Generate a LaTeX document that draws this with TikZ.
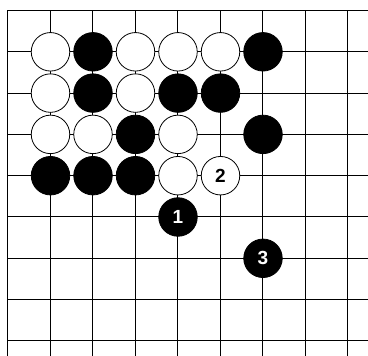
\documentclass[tikz,border=0pt]{standalone}
\usepackage{fontspec}
\setmainfont{Liberation Sans}
\begin{document}
\begin{tikzpicture}[x=1pt,y=-1pt,
  gridline/.style={line width=1pt,black},
  bstone/.style={circle,fill=black,draw=black,line width=0.8pt,minimum size=38.5pt,inner sep=0pt,text=white,font=\fontsize{19}{19}\selectfont\bfseries},
  wstone/.style={circle,fill=white,draw=black,line width=0.8pt,minimum size=38.5pt,inner sep=0pt,text=black,font=\fontsize{19}{19}\selectfont\bfseries}]
\useasboundingbox (0,0) rectangle (368,356);
\fill[white] (0,0) rectangle (368,356);
% grid
\foreach \i in {0,...,8} {
  \pgfmathsetmacro{\xx}{8+42.5*\i}
  \draw[gridline] (\xx,10.5) -- (\xx,356);
}
\foreach \j in {0,...,8} {
  \pgfmathsetmacro{\yy}{10.5+41.3*\j}
  \draw[gridline] (8,\yy) -- (368,\yy);
}
% helper macros for positions
\def\cx#1{8+42.5*#1}
\def\ry#1{10.5+41.3*#1}
% row 1
\node[wstone] (w11) at ({\cx{1}},{\ry{1}}) {};
\node[bstone] (b12) at ({\cx{2}},{\ry{1}}) {};
\node[wstone] (w13) at ({\cx{3}},{\ry{1}}) {};
\node[wstone] (w14) at ({\cx{4}},{\ry{1}}) {};
\node[wstone] (w15) at ({\cx{5}},{\ry{1}}) {};
\node[bstone] (b16) at ({\cx{6}},{\ry{1}}) {};
% row 2
\node[wstone] (w21) at ({\cx{1}},{\ry{2}}) {};
\node[bstone] (b22) at ({\cx{2}},{\ry{2}}) {};
\node[wstone] (w23) at ({\cx{3}},{\ry{2}}) {};
\node[bstone] (b24) at ({\cx{4}},{\ry{2}}) {};
\node[bstone] (b25) at ({\cx{5}},{\ry{2}}) {};
% row 3
\node[wstone] (w31) at ({\cx{1}},{\ry{3}}) {};
\node[wstone] (w32) at ({\cx{2}},{\ry{3}}) {};
\node[bstone] (b33) at ({\cx{3}},{\ry{3}}) {};
\node[wstone] (w34) at ({\cx{4}},{\ry{3}}) {};
\node[bstone] (b36) at ({\cx{6}},{\ry{3}}) {};
% row 4
\node[bstone] (b41) at ({\cx{1}},{\ry{4}}) {};
\node[bstone] (b42) at ({\cx{2}},{\ry{4}}) {};
\node[bstone] (b43) at ({\cx{3}},{\ry{4}}) {};
\node[wstone] (w44) at ({\cx{4}},{\ry{4}}) {};
\node[wstone] (m2) at ({\cx{5}},{\ry{4}}) {2};
% moves
\node[bstone] (m1) at ({\cx{4}},{\ry{5}}) {1};
\node[bstone] (m3) at ({\cx{6}},{\ry{6}}) {3};
\end{tikzpicture}
\end{document}
